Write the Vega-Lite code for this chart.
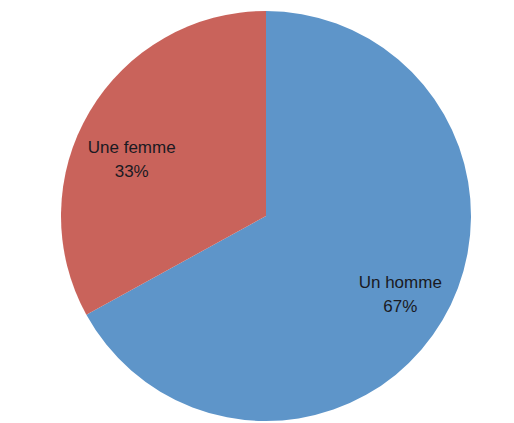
{
  "$schema": "https://vega.github.io/schema/vega-lite/v6.json",
  "width": 514,
  "height": 423,
  "autosize": {"type": "fit", "contains": "padding"},
  "padding": {"left": 18, "top": 9, "right": 0, "bottom": 0},
  "background": "white",
  "view": {"stroke": null},
  "data": {
    "values": [
      {"category": "Un homme", "share": 0.67},
      {"category": "Une femme", "share": 0.33}
    ]
  },
  "encoding": {
    "theta": {"field": "share", "type": "quantitative", "stack": true},
    "order": {"field": "category", "sort": "ascending"}
  },
  "layer": [
    {
      "mark": {"type": "arc", "outerRadius": 205},
      "encoding": {
        "color": {
          "field": "category",
          "type": "nominal",
          "scale": {"domain": ["Un homme", "Une femme"], "range": ["#5E95C9", "#C9635B"]},
          "legend": null
        }
      }
    },
    {
      "mark": {"type": "text", "radius": 156, "dy": -12, "font": "Liberation Sans", "fontSize": 17, "fill": "#1a1a22"},
      "encoding": {
        "text": {"condition": {"test": "datum.category === 'Un homme'", "field": "category"}, "value": ""}
      }
    },
    {
      "mark": {"type": "text", "radius": 156, "dy": 12, "font": "Liberation Sans", "fontSize": 17, "fill": "#1a1a22"},
      "encoding": {
        "text": {"condition": {"test": "datum.category === 'Un homme'", "field": "share", "format": ".0%"}, "value": ""}
      }
    },
    {
      "mark": {"type": "text", "radius": 156, "dy": 11, "font": "Liberation Sans", "fontSize": 17, "fill": "#1a1a22"},
      "encoding": {
        "text": {"condition": {"test": "datum.category === 'Une femme'", "field": "category"}, "value": ""}
      }
    },
    {
      "mark": {"type": "text", "radius": 156, "dy": 35, "font": "Liberation Sans", "fontSize": 17, "fill": "#1a1a22"},
      "encoding": {
        "text": {"condition": {"test": "datum.category === 'Une femme'", "field": "share", "format": ".0%"}, "value": ""}
      }
    }
  ]
}
